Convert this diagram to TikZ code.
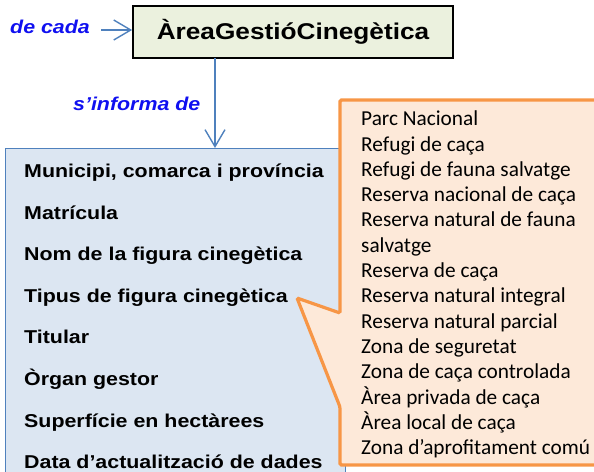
\documentclass[tikz,border=0pt]{standalone}
\usepackage{fontspec}
\setmainfont{Liberation Sans}
\newfontfamily\arialx[FakeStretch=1.15]{Liberation Sans}
\newfontfamily\calibri{Carlito}
\usetikzlibrary{arrows.meta,positioning}
\definecolor{linkblue}{HTML}{4F81BD}
\definecolor{rolblue}{HTML}{1010F0}
\definecolor{entfill}{HTML}{EBF1DE}
\definecolor{fitxafill}{HTML}{DCE6F2}
\definecolor{globusdraw}{HTML}{F79646}
\definecolor{globusfill}{HTML}{FDE9D9}
\begin{document}
\begin{tikzpicture}[x=1pt,y=-1pt,
	entitat/.style={draw=black,line width=1.8pt,fill=entfill,minimum width=320pt,minimum height=52pt,inner sep=0pt,font=\arialx\bfseries\fontsize{22.8}{26}\selectfont},
	rol/.style={text=rolblue,anchor=base west,inner sep=0pt,font=\arialx\bfseries\itshape\fontsize{18.6}{22}\selectfont},
	fitxa/.style={draw=linkblue,line width=1.2pt,fill=fitxafill,anchor=north west,minimum width=340pt,minimum height=340pt},
	camp/.style={anchor=base west,inner sep=0pt,font=\arialx\bfseries\fontsize{18.6}{22}\selectfont},
	globus/.style={draw=globusdraw,line width=3.2pt,fill=globusfill,rounded corners=1.5pt},
	tipus/.style={anchor=base west,inner sep=0pt,font=\calibri\fontsize{21.3}{25}\selectfont},
	enllac/.style={draw=linkblue,line width=1.4pt,-{Straight Barb[length=17pt,width=20pt]}}]
	\useasboundingbox (0,0) rectangle (594,471);
	\clip (0,0) rectangle (594,471);

	\node[entitat] (agc) at (293,32) {ÀreaGestióCinegètica};
	\node[rol] (decada) at (10,33.5) {de cada};
	\coordinate (inici) at (101,30);
	\draw[enllac] (inici) -- (inici -| agc.west);

	\node[fitxa] (fitxa) at (5,148) {};
	\node[rol] (informa) at (73,110) {s’informa de};
	\coordinate (baix) at (215,58);
	\draw[enllac] (baix) -- (baix |- fitxa.north);

	\foreach \nom [count=\i] in {{Municipi, comarca i província},Matrícula,Nom de la figura cinegètica,Tipus de figura cinegètica,Titular,Òrgan gestor,Superfície en hectàrees,Data d’actualització de dades}
		\node[camp] (camp\i) at (24,{177.5+(\i-1)*41.6}) {\nom};

	% globus amb els tipus de figura
	\coordinate (punta) at (297,298);
	\draw[globus] (340,100) -- (610,100) -- (610,465) -- (340,465) -- (340,407) -- (punta) -- (340,313) -- cycle;
	\foreach \nom [count=\i] in {Parc Nacional,Refugi de caça,Refugi de fauna salvatge,Reserva nacional de caça,Reserva natural de fauna,salvatge,Reserva de caça,Reserva natural integral,Reserva natural parcial,Zona de seguretat,Zona de caça controlada,Àrea privada de caça,Àrea local de caça,Zona d’aprofitament comú}
		\node[tipus] (tipus\i) at (361,{125.7+(\i-1)*25.3}) {\nom};
\end{tikzpicture}
\end{document}
